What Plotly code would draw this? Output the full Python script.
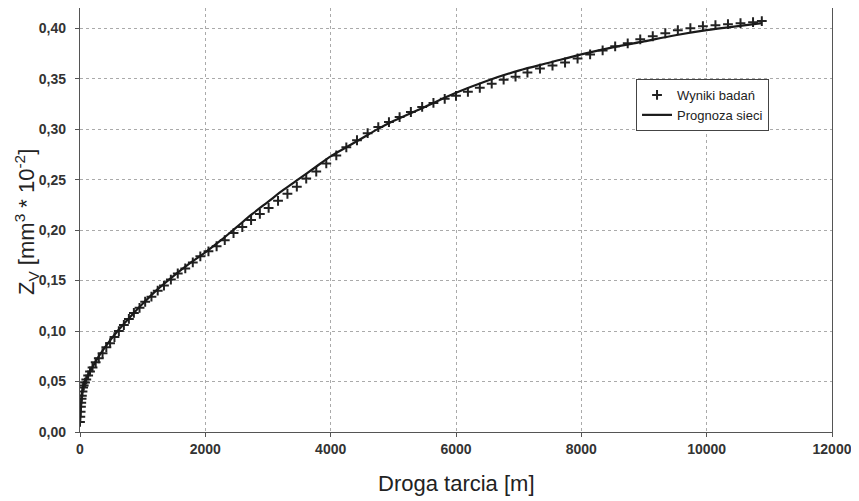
import plotly.graph_objects as go

# Measured data (Wyniki badań)
meas_x = [0, 5, 10, 15, 20, 25, 30, 40, 50, 60, 80, 100, 130, 160, 200, 250, 300, 360, 420, 480,
          550, 620, 700, 780, 860, 950, 1040, 1140, 1240, 1340, 1450, 1560, 1680, 1800, 1920,
          2050, 2180, 2310, 2450, 2590, 2730, 2870, 3010, 3160, 3310, 3460, 3610, 3770, 3930,
          4090, 4250, 4420, 4590, 4760, 4930, 5100, 5280, 5460, 5640, 5820, 6000, 6190, 6380,
          6570, 6760, 6950, 7140, 7340, 7540, 7740, 7940, 8140, 8340, 8540, 8740, 8940, 9140,
          9340, 9540, 9740, 9940, 10140, 10340, 10540, 10740, 10880]
meas_y = [0.010, 0.015, 0.020, 0.025, 0.029, 0.033, 0.036, 0.040, 0.044, 0.046, 0.049, 0.052,
          0.056, 0.060, 0.064, 0.069, 0.073, 0.078, 0.084, 0.088, 0.094, 0.100, 0.106, 0.112,
          0.118, 0.123, 0.129, 0.134, 0.140, 0.145, 0.151, 0.157, 0.162, 0.168, 0.174, 0.179,
          0.184, 0.190, 0.197, 0.203, 0.210, 0.216, 0.222, 0.229, 0.236, 0.243, 0.251, 0.258,
          0.266, 0.274, 0.282, 0.289, 0.296, 0.302, 0.307, 0.312, 0.317, 0.322, 0.326, 0.330,
          0.333, 0.337, 0.341, 0.345, 0.349, 0.352, 0.356, 0.360, 0.363, 0.366, 0.370, 0.374,
          0.378, 0.382, 0.385, 0.389, 0.392, 0.395, 0.398, 0.400, 0.402, 0.403, 0.404, 0.405,
          0.406, 0.407]

# Network prediction (Prognoza sieci)
pred_x = [0, 20, 50, 120, 250, 400, 600, 800, 1000, 1250, 1500, 1750, 2000, 2250, 2500, 2750,
          3000, 3250, 3500, 3750, 4000, 4250, 4500, 4750, 5000, 5500, 6000, 6500, 7000, 7500,
          8000, 8500, 9000, 9500, 10000, 10500, 10880]
pred_y = [0.012, 0.030, 0.045, 0.055, 0.070, 0.084, 0.100, 0.114, 0.127, 0.142, 0.155, 0.167,
          0.178, 0.190, 0.203, 0.216, 0.228, 0.240, 0.251, 0.262, 0.273, 0.282, 0.291, 0.300,
          0.308, 0.322, 0.336, 0.348, 0.358, 0.366, 0.374, 0.381, 0.387, 0.393, 0.398, 0.402,
          0.405]

x_ticks = [0, 2000, 4000, 6000, 8000, 10000, 12000]
y_ticks = [0.00, 0.05, 0.10, 0.15, 0.20, 0.25, 0.30, 0.35, 0.40]

FONT = "Liberation Sans, Arial, sans-serif"

fig = go.Figure()
fig.add_trace(go.Scatter(
    x=meas_x, y=meas_y, mode="markers", name="Wyniki badań",
    marker=dict(symbol="cross-thin", size=7, color="#222",
                line=dict(width=2, color="#222")),
))
fig.add_trace(go.Scatter(
    x=pred_x, y=pred_y, mode="lines", name="Prognoza sieci",
    line=dict(color="#1a1a1a", width=2.2, shape="spline"),
))

axis_common = dict(
    showline=True, linecolor="#555", linewidth=1.3, mirror=True,
    showgrid=True, gridcolor="#aaaaaa", griddash="dot", gridwidth=1,
    ticks="outside", ticklen=4, tickcolor="#555", zeroline=False,
    tickfont=dict(family=FONT, size=14, color="#333", weight="bold"),
)

fig.update_layout(
    width=851, height=493,
    margin=dict(l=72, r=27, t=0, b=69),
    paper_bgcolor="white", plot_bgcolor="white",
    separators=", ",
    showlegend=True,
    legend=dict(
        x=0.7394, y=0.8325, xanchor="left", yanchor="top",
        bgcolor="white", bordercolor="#444", borderwidth=1,
        font=dict(family=FONT, size=13, color="#222"),
        tracegroupgap=0, itemwidth=30,
    ),
    xaxis=dict(
        range=[0, 12000], tickvals=x_ticks, tickformat="d",
        **axis_common,
    ),
    yaxis=dict(
        range=[0, 0.42], tickvals=y_ticks, tickformat=".2f",
        ticklabelstandoff=6,
        **axis_common,
    ),
    annotations=[
        dict(
            text="Z<sub>V</sub> [mm<sup>3</sup> * 10<sup>-2</sup>]",
            xref="paper", yref="paper", x=-0.072, y=0.495,
            xanchor="center", yanchor="middle", textangle=-90, showarrow=False,
            font=dict(family=FONT, size=22, color="#222"),
        ),
        dict(
            text="Droga tarcia [m]",
            xref="paper", yref="paper", x=0.5, y=-0.1226,
            xanchor="center", yanchor="middle", showarrow=False,
            font=dict(family=FONT, size=22, color="#222"),
        ),
    ],
)

fig.write_html("out.html")
